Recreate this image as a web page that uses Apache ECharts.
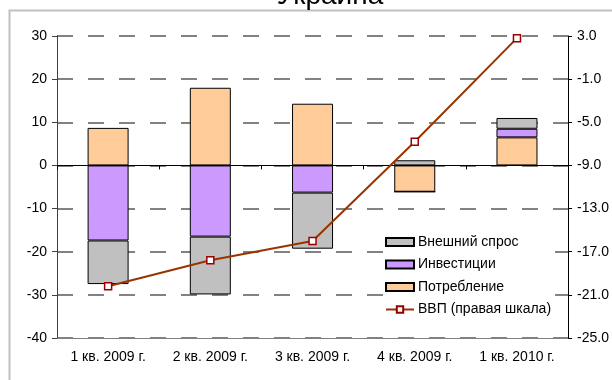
<!DOCTYPE html>
<html>
<head>
<meta charset="utf-8">
<script src="https://cdn.jsdelivr.net/npm/echarts@6/dist/echarts.min.js"></script>
<style>
  html, body { margin: 0; padding: 0; background: #fff; }
  #chart { width: 612px; height: 380px; }
</style>
</head>
<body>
<div id="chart"></div>
<script>
// Quarterly contributions to GDP growth, p.p. (left axis) and GDP growth, % (right axis)
const categories = ['1 кв. 2009 г.', '2 кв. 2009 г.', '3 кв. 2009 г.', '4 кв. 2009 г.', '1 кв. 2010 г.'];
const consumption = [8.7, 18.0, 14.3, -6.1, 6.5];
const investment = [-17.4, -16.5, -6.3, 0.0, 2.0];
const externalDemand = [-10.1, -13.4, -13.0, 1.2, 2.5];
const gdp = [-20.2, -17.8, -16.0, -6.8, 2.8];

const leftTicks = { min: -40, max: 30, interval: 10 };
const rightTicks = { min: -25, max: 3, interval: 4 };

const FONT = 'Liberation Sans, Arial, sans-serif';
const chart = echarts.init(document.getElementById('chart'), null, { renderer: 'canvas' });

const barBase = {
  type: 'bar',
  stack: 'contrib',
  barWidth: 41,
  xAxisIndex: 0,
  yAxisIndex: 0
};

chart.setOption({
  animation: false,
  backgroundColor: '#fff',
  title: {
    text: 'Украина',
    left: 325,
    textAlign: 'center',
    top: -23,
    textStyle: { fontFamily: FONT, fontSize: 28, fontWeight: 'normal', color: '#000' }
  },
  graphic: [{
    type: 'rect',
    shape: { x: 9.5, y: 10.5, width: 700, height: 500 },
    style: { fill: 'none', stroke: '#c0c0c0', lineWidth: 2 },
    silent: true,
    z: -1
  }],
  grid: { left: 57, right: 42, top: 36, bottom: 42, containLabel: false },
  legend: {
    orient: 'vertical',
    left: 383,
    top: 232,
    width: 170,
    padding: [3, 4, 5, 2],
    backgroundColor: '#fff',
    itemWidth: 28,
    itemHeight: 8,
    itemGap: 8.5,
    textStyle: { fontFamily: FONT, fontSize: 14, color: '#000', padding: [0, 0, 0, -1] },
    data: [
      { name: 'Внешний спрос', icon: 'rect' },
      { name: 'Инвестиции', icon: 'rect' },
      { name: 'Потребление', icon: 'rect' },
      { name: 'ВВП (правая шкала)' }
    ]
  },
  xAxis: [{
    type: 'category',
    data: categories,
    position: 'bottom',
    axisLine: { onZero: false, lineStyle: { color: '#808080', width: 1 } },
    axisTick: { show: false },
    axisLabel: { fontFamily: FONT, fontSize: 14, color: '#000', margin: 12 },
    splitLine: { show: false }
  }, {
    type: 'category',
    data: categories,
    position: 'bottom',
    axisLine: { onZero: true, onZeroAxisIndex: 0, lineStyle: { color: '#000', width: 1 } },
    axisTick: { show: true, length: 4, lineStyle: { color: '#000' } },
    axisLabel: { show: false },
    splitLine: { show: false }
  }],
  yAxis: [{
    type: 'value',
    min: leftTicks.min,
    max: leftTicks.max,
    interval: leftTicks.interval,
    position: 'left',
    axisLine: { show: true, lineStyle: { color: '#404040', width: 1 } },
    axisTick: { show: true, length: 5, lineStyle: { color: '#404040' } },
    axisLabel: { fontFamily: FONT, fontSize: 14, color: '#000', margin: 10 },
    splitLine: { show: true, lineStyle: { color: '#5a5a5a', width: 1.5, type: [16, 15] } }
  }, {
    type: 'value',
    min: rightTicks.min,
    max: rightTicks.max,
    interval: rightTicks.interval,
    position: 'right',
    axisLine: { show: true, lineStyle: { color: '#000', width: 1 } },
    axisTick: { show: true, length: 4, lineStyle: { color: '#000' } },
    axisLabel: { fontFamily: FONT, fontSize: 14, color: '#000', margin: 9,
      formatter: v => v.toFixed(1) },
    splitLine: { show: false }
  }],
  series: [
    Object.assign({}, barBase, {
      name: 'Потребление',
      data: consumption,
      itemStyle: { color: '#FFCC99', borderColor: '#000', borderWidth: 1 }
    }),
    Object.assign({}, barBase, {
      name: 'Инвестиции',
      data: investment,
      itemStyle: { color: '#CC99FF', borderColor: '#000', borderWidth: 1 }
    }),
    Object.assign({}, barBase, {
      name: 'Внешний спрос',
      data: externalDemand,
      itemStyle: { color: '#C0C0C0', borderColor: '#000', borderWidth: 1 }
    }),
    {
      name: 'ВВП (правая шкала)',
      type: 'line',
      xAxisIndex: 0,
      yAxisIndex: 1,
      data: gdp,
      symbol: 'rect',
      symbolSize: 7,
      lineStyle: { color: '#993300', width: 2 },
      itemStyle: { color: '#fff', borderColor: '#990000', borderWidth: 1.5 },
      z: 5
    }
  ]
});
</script>
</body>
</html>
